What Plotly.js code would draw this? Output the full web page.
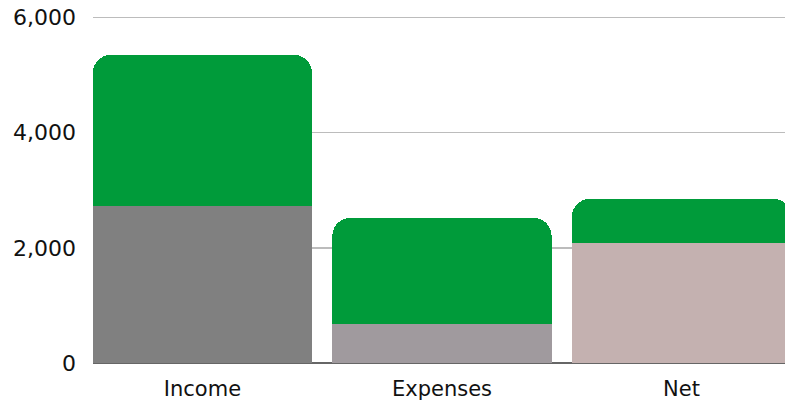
<!DOCTYPE html>
<html>
<head>
<meta charset="utf-8">
<script src="https://cdn.plot.ly/plotly-3.0.1.min.js"></script>
<style>html,body{margin:0;padding:0;background:#fff;}#chart{width:785px;height:401px;}</style>
</head>
<body>
<div id="chart"></div>
<script>
var categories = ["Income", "Expenses", "Net"];
var baseValues = [2730, 680, 2080];
var topValues = [2620, 1840, 770];
var baseColors = ["#808080", "#a09a9e", "#c4b1b0"];
var topColor = "#009b3a";
var yTicks = [0, 2000, 4000, 6000];
var yTickLabels = ["0", "2,000", "4,000", "6,000"];

var traces = [
  {type: "bar", x: categories, y: baseValues, marker: {color: baseColors}, hoverinfo: "none"},
  {type: "bar", x: categories, y: topValues, marker: {color: topColor}, hoverinfo: "none"}
];

var layout = {
  width: 785, height: 401,
  margin: {l: 93, r: 0, t: 14, b: 38},
  barmode: "stack",
  bargap: 0.0845,
  barcornerradius: 18,
  showlegend: false,
  paper_bgcolor: "#ffffff",
  plot_bgcolor: "#ffffff",
  font: {family: "DejaVu Sans, sans-serif", size: 22, color: "#111111"},
  xaxis: {
    range: [-0.457, 2.432],
    showgrid: false,
    zeroline: false,
    showline: false,
    ticks: "",
    ticklabelstandoff: 11,
    tickfont: {size: 21, color: "#111111"}
  },
  yaxis: {
    range: [0, 6060],
    tickvals: yTicks,
    ticktext: yTickLabels,
    showgrid: true,
    gridcolor: "#bcbcbc",
    gridwidth: 1.5,
    zeroline: true,
    zerolinecolor: "#666666",
    zerolinewidth: 1.5,
    showline: false,
    ticks: "",
    ticklabelstandoff: 16,
    tickfont: {size: 22, color: "#111111"}
  }
};

Plotly.newPlot("chart", traces, layout, {staticPlot: true, displayModeBar: false});
</script>
</body>
</html>
